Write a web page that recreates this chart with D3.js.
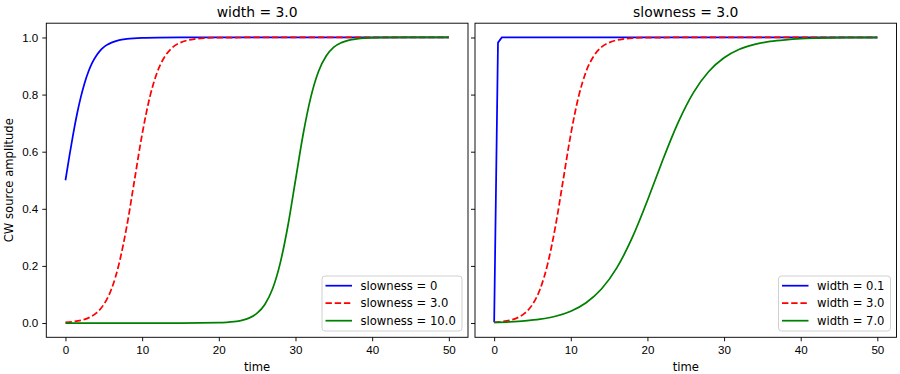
<!DOCTYPE html>
<html>
<head>
<meta charset="utf-8">
<script src="https://cdn.jsdelivr.net/npm/d3@7"></script>
<style>
  body { margin: 0; background: #fff; }
  svg { font-family: "DejaVu Sans", sans-serif; }
  .axis path, .axis line { stroke: #000; stroke-width: 0.93px; }
  .axis text { fill: #000; font-size: 11.6px; }
</style>
</head>
<body>
<div id="chart"></div>
<script>
// values (time, amplitude)
// left panel: width = 3.0
const timeSlow0 = [0, 0.5, 1, 1.5, 2, 2.5, 3, 3.5, 4, 4.5, 5, 5.5, 6, 7, 8, 10, 12, 15, 50];
const ampSlow0 = [0.5, 0.583, 0.661, 0.731, 0.791, 0.841, 0.881, 0.912, 0.935, 0.953, 0.966, 0.975, 0.982, 0.991, 0.995, 0.9987, 0.9997, 1.0, 1.0];

const timeSlow3 = [0, 1, 2, 3, 4, 5, 6, 7, 8, 9, 10, 11, 12, 13, 14, 15, 16, 17, 18, 20, 22, 25, 50];
const ampSlow3 = [0.0025, 0.0048, 0.0093, 0.018, 0.0345, 0.065, 0.119, 0.209, 0.339, 0.5, 0.661, 0.791, 0.881, 0.935, 0.966, 0.982, 0.991, 0.995, 0.9975, 0.9994, 0.9998, 1.0, 1.0];

const timeSlow10 = [0, 15, 20, 21, 22, 23, 24, 25, 26, 27, 28, 29, 30, 31, 32, 33, 34, 35, 36, 37, 38, 39, 41, 45, 50];
const ampSlow10 = [0, 0.00005, 0.0013, 0.0025, 0.0048, 0.0093, 0.018, 0.0345, 0.065, 0.119, 0.209, 0.339, 0.5, 0.661, 0.791, 0.881, 0.935, 0.966, 0.982, 0.991, 0.995, 0.9975, 0.9994, 1.0, 1.0];

// right panel: slowness = 3.0
const timeW01 = [0, 0.5, 1, 50];
const ampW01 = [0.0025, 0.982, 1.0, 1.0];

const timeW3 = timeSlow3;
const ampW3 = ampSlow3;

const timeW7 = [0, 2, 4, 6, 8, 10, 12, 14, 16, 18, 20, 21, 22, 24, 26, 28, 30, 32, 34, 36, 38, 40, 42, 44, 46, 48, 50];
const ampW7 = [0.0025, 0.0044, 0.0077, 0.0136, 0.0238, 0.0414, 0.071, 0.119, 0.193, 0.298, 0.429, 0.5, 0.571, 0.702, 0.807, 0.881, 0.929, 0.959, 0.976, 0.986, 0.992, 0.9957, 0.9975, 0.9986, 0.9992, 0.9996, 0.9998];

const xTicks = [0, 10, 20, 30, 40, 50];
const yTicks = [0.0, 0.2, 0.4, 0.6, 0.8, 1.0];

const leftLabels = ["slowness = 0", "slowness = 3.0", "slowness = 10.0"];
const rightLabels = ["width = 0.1", "width = 3.0", "width = 7.0"];
const colors = ["#0000ff", "#ff0000", "#008000"];

function zip(ts, ys) {
    return ts.map(function (t, i) { return { t: t, y: ys[i] }; });
}

const panels = [
    {
        title: "width = 3.0", left: 46.3, right: 468, labels: leftLabels, yLabels: true,
        series: [zip(timeSlow0, ampSlow0), zip(timeSlow3, ampSlow3), zip(timeSlow10, ampSlow10)],
        curves: [d3.curveMonotoneX, d3.curveMonotoneX, d3.curveMonotoneX]
    },
    {
        title: "slowness = 3.0", left: 475, right: 896.5, labels: rightLabels, yLabels: false,
        series: [zip(timeW01, ampW01), zip(timeW3, ampW3), zip(timeW7, ampW7)],
        curves: [d3.curveLinear, d3.curveMonotoneX, d3.curveMonotoneX]
    }
];

const plotTop = 23.2, plotBottom = 337.3;

let svg = d3.select("#chart").append("svg")
    .attr("width", 900)
    .attr("height", 374);

let yScale = d3.scaleLinear().domain([-0.05, 1.05]).range([plotBottom, plotTop]);

panels.forEach(function (p, pi) {
    let xScale = d3.scaleLinear().domain([-2.5, 52.5]).range([p.left, p.right]);
    let g = svg.append("g");

    //clip
    g.append("clipPath").attr("id", "clip" + pi)
        .append("rect")
        .attr("x", p.left).attr("y", plotTop)
        .attr("width", p.right - p.left).attr("height", plotBottom - plotTop);

    //lines
    p.series.forEach(function (data, i) {
        let line = d3.line()
            .x(function (d) { return xScale(d.t); })
            .y(function (d) { return yScale(d.y); })
            .curve(p.curves[i]);
        g.append("path")
            .datum(data)
            .attr("clip-path", "url(#clip" + pi + ")")
            .attr("fill", "none")
            .attr("stroke", colors[i])
            .attr("stroke-width", 1.74)
            .attr("stroke-dasharray", i === 1 ? "6.4,2.8" : null)
            .attr("d", line);
    });

    //x axis
    g.append("g")
        .attr("class", "axis")
        .attr("transform", "translate(0," + plotBottom + ")")
        .call(d3.axisBottom(xScale).tickValues(xTicks).tickSize(4).tickPadding(4).tickSizeOuter(0))
        .call(function (a) { a.select(".domain").remove(); });

    //y axis
    g.append("g")
        .attr("class", "axis")
        .attr("transform", "translate(" + p.left + ",0)")
        .call(d3.axisLeft(yScale).tickValues(yTicks).tickSize(4).tickPadding(4)
            .tickFormat(p.yLabels ? d3.format(".1f") : function () { return ""; }))
        .call(function (a) { a.select(".domain").remove(); });

    //frame
    g.append("rect")
        .attr("x", p.left).attr("y", plotTop)
        .attr("width", p.right - p.left).attr("height", plotBottom - plotTop)
        .attr("fill", "none").attr("stroke", "#000").attr("stroke-width", 0.93);

    //title
    g.append("text")
        .attr("x", (p.left + p.right) / 2).attr("y", 17)
        .attr("text-anchor", "middle")
        .style("font-size", "13.9px")
        .text(p.title);

    //x label
    g.append("text")
        .attr("x", (p.left + p.right) / 2).attr("y", 371)
        .attr("text-anchor", "middle")
        .style("font-size", "11.6px")
        .text("time");

    //legend
    let lw = pi === 0 ? 140 : 112;
    let lx = p.right - 6 - lw, ly = 276;
    let leg = g.append("g");
    leg.append("rect")
        .attr("x", lx).attr("y", ly).attr("width", lw).attr("height", 55)
        .attr("rx", 3).attr("ry", 3)
        .attr("fill", "#fff").attr("fill-opacity", 0.8)
        .attr("stroke", "#cccccc").attr("stroke-width", 0.93);
    p.labels.forEach(function (lab, i) {
        let yy = ly + 9.7 + i * 17.5;
        leg.append("line")
            .attr("x1", lx + 3.5).attr("x2", lx + 30)
            .attr("y1", yy).attr("y2", yy)
            .attr("stroke", colors[i]).attr("stroke-width", 1.74)
            .attr("stroke-dasharray", i === 1 ? "6.4,2.8" : null);
        leg.append("text")
            .attr("x", lx + 38.5).attr("y", yy + 4.2)
            .style("font-size", "11.6px")
            .text(lab);
    });
});

//y label
svg.append("text")
    .attr("transform", "translate(13," + (plotTop + plotBottom) / 2 + ") rotate(-90)")
    .attr("text-anchor", "middle")
    .style("font-size", "11.6px")
    .text("CW source amplitude");
</script>
</body>
</html>
